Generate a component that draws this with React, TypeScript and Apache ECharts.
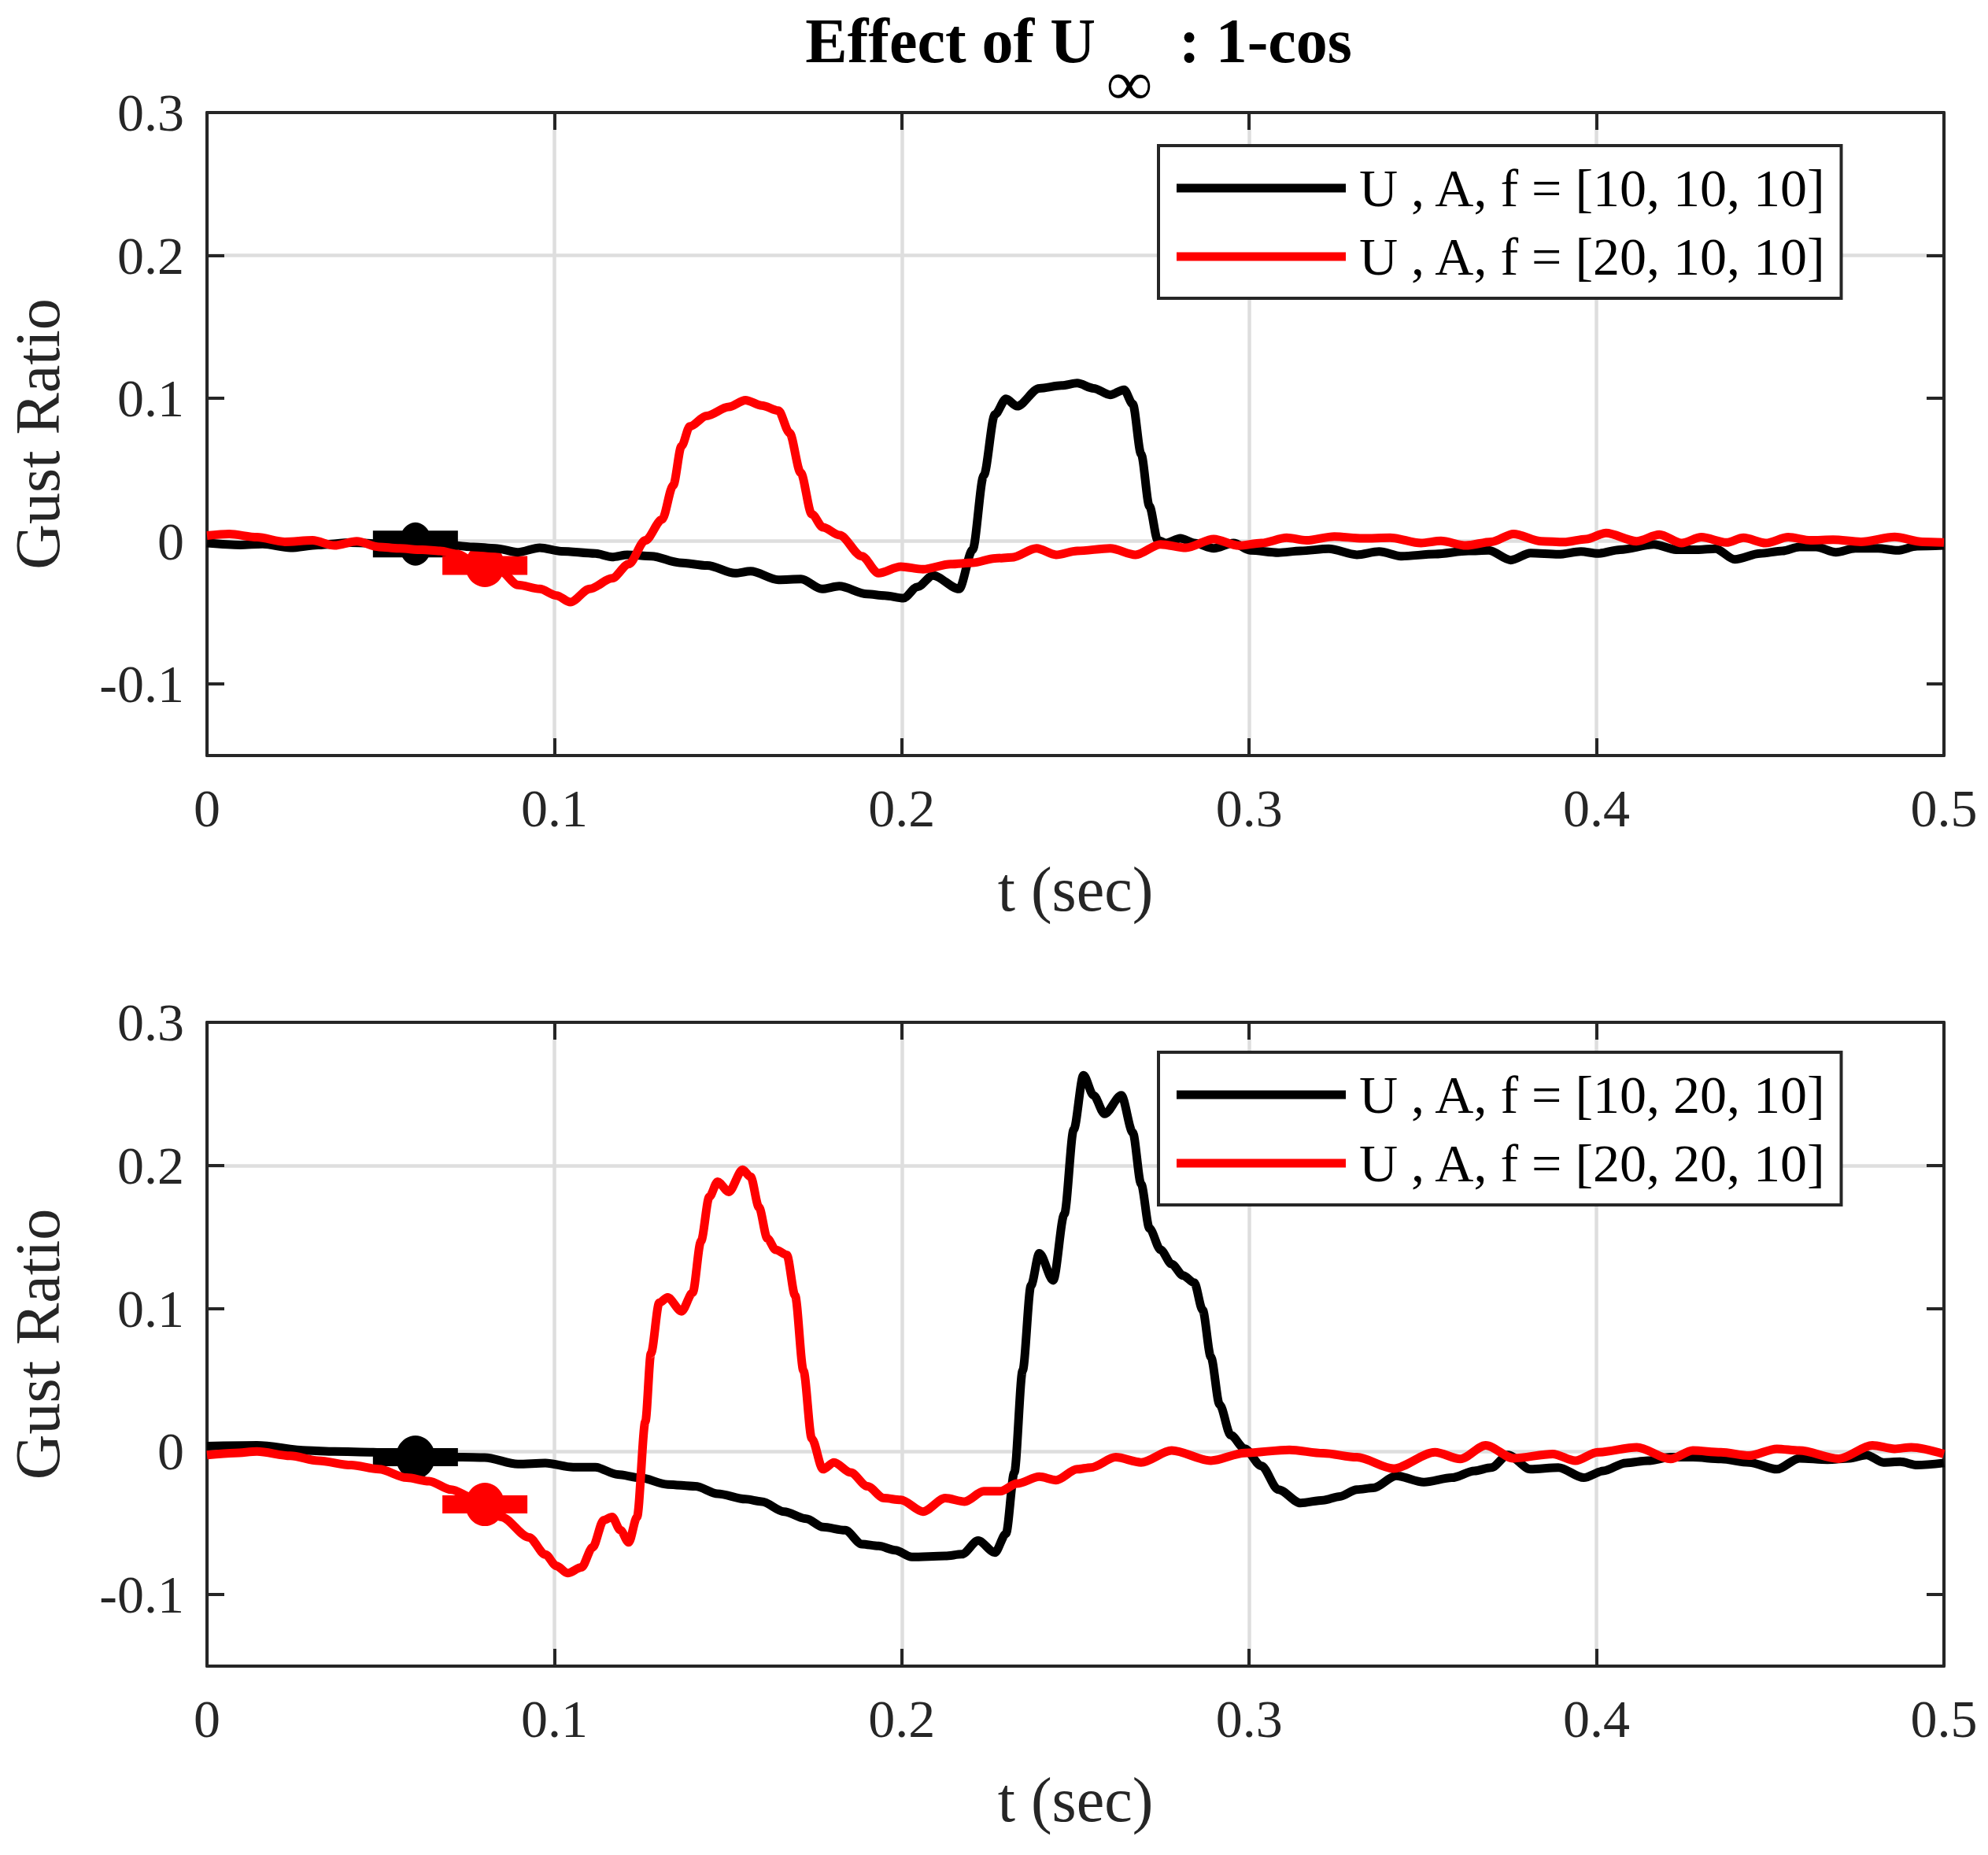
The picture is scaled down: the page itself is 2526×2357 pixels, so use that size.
import React, { useEffect, useRef } from 'react';
import * as echarts from 'echarts';

const FONT = "'Liberation Serif', 'Times New Roman', serif";
const AXIS_COLOR = '#262626';
const GRID_COLOR = '#dedede';

const yTicks = [-0.1, 0, 0.1, 0.2, 0.3];
const legendTop = ['U , A, f = [10, 10, 10]', 'U , A, f = [20, 10, 10]'];
const legendBottom = ['U , A, f = [10, 20, 10]', 'U , A, f = [20, 20, 10]'];

// Top panel: U, A, f = [10, 10, 10]
const topBlack: [number, number][] = [
  [0, -0.0013], [0.0096, -0.0026], [0.016, -0.002], [0.024, -0.0046], [0.032, -0.0026], [0.0415, -0.001],
  [0.0527, -0.002], [0.06, -0.002], [0.067, -0.002], [0.0767, -0.004], [0.083, -0.005], [0.0895, -0.0077],
  [0.0958, -0.0046], [0.102, -0.007], [0.1118, -0.0086], [0.1166, -0.011], [0.121, -0.0095], [0.128, -0.0105],
  [0.136, -0.015], [0.144, -0.017], [0.152, -0.0224], [0.1565, -0.021], [0.1645, -0.027], [0.171, -0.0265],
  [0.177, -0.0334], [0.182, -0.0315], [0.19, -0.037], [0.195, -0.038], [0.2005, -0.0398], [0.2045, -0.032],
  [0.209, -0.024], [0.2165, -0.0334], [0.2204, -0.006], [0.2236, 0.046], [0.2268, 0.0886], [0.23, 0.0996],
  [0.2332, 0.0945], [0.2396, 0.107], [0.246, 0.109], [0.2505, 0.1106], [0.2552, 0.107], [0.26, 0.1024],
  [0.264, 0.106], [0.2665, 0.096], [0.2689, 0.061], [0.2713, 0.0244], [0.2737, 0.0006], [0.2761, -0.0013],
  [0.2802, 0.002], [0.2842, -0.0013], [0.2898, -0.005], [0.2955, -0.0013], [0.3003, -0.0064], [0.3084, -0.008],
  [0.3148, -0.0068], [0.3229, -0.0053], [0.331, -0.0095], [0.3374, -0.0072], [0.3439, -0.0105], [0.3535, -0.009],
  [0.3632, -0.0068], [0.3689, -0.0064], [0.3753, -0.0132], [0.381, -0.0083], [0.389, -0.0092], [0.3955, -0.0072],
  [0.4003, -0.0086], [0.4068, -0.0059], [0.4165, -0.0022], [0.4229, -0.0059], [0.4294, -0.0059], [0.4342, -0.0053],
  [0.4398, -0.0127], [0.4471, -0.0086], [0.4535, -0.0068], [0.4584, -0.004], [0.4632, -0.004], [0.4689, -0.0077],
  [0.4745, -0.005], [0.481, -0.005], [0.4866, -0.0064], [0.4923, -0.0035], [0.5, -0.003],
];

// Top panel: U, A, f = [20, 10, 10]
const topRed: [number, number][] = [
  [0, 0.0039], [0.0064, 0.005], [0.0144, 0.0028], [0.0224, -0.0004], [0.0304, 0.0006], [0.0367, -0.003],
  [0.0431, -0.0001], [0.0495, -0.004], [0.055, -0.005], [0.062, -0.006], [0.0671, -0.0068], [0.072, -0.009],
  [0.0767, -0.014], [0.0847, -0.0215], [0.0895, -0.0306], [0.0958, -0.0334], [0.1006, -0.038], [0.1046, -0.0426],
  [0.1102, -0.0334], [0.1166, -0.026], [0.1214, -0.016], [0.1262, 0.0006], [0.131, 0.0152], [0.1342, 0.039],
  [0.1366, 0.0666], [0.139, 0.0804], [0.1438, 0.0877], [0.1502, 0.094], [0.155, 0.0987], [0.1597, 0.095],
  [0.1645, 0.0914], [0.1677, 0.0758], [0.1709, 0.048], [0.1741, 0.019], [0.1773, 0.0097], [0.1821, 0.0042],
  [0.1885, -0.0105], [0.1933, -0.0224], [0.1997, -0.0178], [0.2061, -0.0196], [0.2141, -0.016], [0.2204, -0.0151],
  [0.2268, -0.012], [0.2316, -0.0114], [0.2388, -0.005], [0.2444, -0.0095], [0.2505, -0.0068], [0.26, -0.005],
  [0.2673, -0.0095], [0.2745, -0.0022], [0.2818, -0.0046], [0.2898, 0.0015], [0.297, -0.0031], [0.3035, -0.0013],
  [0.3108, 0.0024], [0.3165, 0.0006], [0.3245, 0.0033], [0.3326, 0.002], [0.3406, 0.0024], [0.3495, -0.0013],
  [0.3552, 0.0002], [0.3624, -0.003], [0.3697, -0.0004], [0.3761, 0.0051], [0.3842, 0], [0.3906, -0.0006],
  [0.397, 0.0015], [0.4027, 0.0057], [0.4115, 0], [0.4181, 0.0046], [0.4245, -0.0013], [0.4302, 0.0028],
  [0.4374, -0.0009], [0.4423, 0.0024], [0.4487, -0.0013], [0.4552, 0.0028], [0.4616, 0.0006], [0.4681, 0.0011],
  [0.4761, -0.0004], [0.4858, 0.003], [0.4939, -0.0004], [0.5, -0.0009],
];

// Bottom panel: U, A, f = [10, 20, 10]
const bottomBlack: [number, number][] = [
  [0, 0.0038], [0.0144, 0.0043], [0.0288, 0.0007], [0.0367, 0], [0.0479, -0.0005], [0.06, -0.003],
  [0.0735, -0.004], [0.0799, -0.0042], [0.0895, -0.0088], [0.0974, -0.0081], [0.1054, -0.011], [0.1118, -0.011],
  [0.1182, -0.016], [0.1246, -0.0183], [0.1326, -0.023], [0.1406, -0.0243], [0.147, -0.0295], [0.155, -0.0333],
  [0.1597, -0.035], [0.1661, -0.042], [0.1725, -0.047], [0.1773, -0.0528], [0.1837, -0.055], [0.1885, -0.0647],
  [0.1933, -0.066], [0.1981, -0.069], [0.2029, -0.0737], [0.2125, -0.073], [0.2173, -0.0718], [0.222, -0.0623],
  [0.2268, -0.0706], [0.23, -0.0575], [0.2324, -0.0147], [0.2348, 0.0566], [0.2372, 0.116], [0.2396, 0.1386],
  [0.2436, 0.1196], [0.2468, 0.166], [0.2495, 0.225], [0.2523, 0.263], [0.2552, 0.249], [0.2584, 0.236],
  [0.2632, 0.249], [0.2665, 0.223], [0.2689, 0.187], [0.2713, 0.156], [0.2745, 0.141], [0.2777, 0.131],
  [0.281, 0.123], [0.2842, 0.118], [0.2866, 0.099], [0.289, 0.066], [0.2915, 0.0328], [0.2947, 0.0114],
  [0.2987, 0.002], [0.3035, -0.01], [0.3084, -0.0266], [0.3148, -0.036], [0.3213, -0.034], [0.3261, -0.0314],
  [0.331, -0.0266], [0.3358, -0.0254], [0.3423, -0.017], [0.3503, -0.0214], [0.3584, -0.0183], [0.3648, -0.0136],
  [0.3697, -0.0112], [0.3745, -0.0024], [0.381, -0.0124], [0.389, -0.0112], [0.3963, -0.0183], [0.4019, -0.0136],
  [0.4084, -0.008], [0.4148, -0.0064], [0.4213, -0.004], [0.4277, -0.004], [0.4358, -0.0052], [0.4439, -0.0076],
  [0.4519, -0.0124], [0.4584, -0.0047], [0.4665, -0.0057], [0.4729, -0.0047], [0.4777, -0.0024], [0.4826, -0.0076],
  [0.4874, -0.0071], [0.4923, -0.0095], [0.5, -0.008],
];

// Bottom panel: U, A, f = [20, 20, 10]
const bottomRed: [number, number][] = [
  [0, -0.0024], [0.008, -0.001], [0.0144, 0], [0.024, -0.003], [0.032, -0.0064], [0.0415, -0.0095],
  [0.0495, -0.0124], [0.0575, -0.0183], [0.0639, -0.0207], [0.0703, -0.0266], [0.0767, -0.0326], [0.0847, -0.0457],
  [0.0927, -0.06], [0.0974, -0.072], [0.1006, -0.08], [0.1038, -0.085], [0.1078, -0.081], [0.111, -0.067],
  [0.1142, -0.048], [0.1166, -0.0457], [0.119, -0.055], [0.1214, -0.0635], [0.1238, -0.0457], [0.1262, 0.021],
  [0.1278, 0.0685], [0.1302, 0.104], [0.1326, 0.1077], [0.1366, 0.098], [0.1398, 0.111], [0.1422, 0.147],
  [0.1446, 0.178], [0.147, 0.1886], [0.1502, 0.1815], [0.1542, 0.197], [0.1565, 0.192], [0.1589, 0.1707],
  [0.1613, 0.149], [0.1637, 0.141], [0.1669, 0.1375], [0.1693, 0.109], [0.1717, 0.0566], [0.1741, 0.009],
  [0.1773, -0.0124], [0.1805, -0.0076], [0.1853, -0.0147], [0.1901, -0.0243], [0.1949, -0.0326], [0.1997, -0.0338],
  [0.2061, -0.042], [0.2125, -0.0326], [0.2181, -0.035], [0.2236, -0.0278], [0.2284, -0.0278], [0.2332, -0.0224],
  [0.2396, -0.0176], [0.2444, -0.02], [0.2505, -0.0124], [0.2544, -0.0112], [0.2616, -0.004], [0.2689, -0.0076],
  [0.2777, 0.0007], [0.289, -0.0064], [0.2987, -0.001], [0.3116, 0.0012], [0.3213, -0.0012], [0.331, -0.004],
  [0.3415, -0.0119], [0.3535, -0.0005], [0.3608, -0.0052], [0.3681, 0.0043], [0.3761, -0.0047], [0.3874, -0.0017],
  [0.3939, -0.0064], [0.4003, -0.0005], [0.4116, 0.003], [0.4213, -0.0052], [0.4277, 0.0007], [0.4358, -0.0005],
  [0.4439, -0.0029], [0.4519, 0.0019], [0.4584, 0.0007], [0.4697, -0.005], [0.4794, 0.0043], [0.4858, 0.0019],
  [0.4906, 0.003], [0.5, -0.0017],
];

// Gust-start markers [t, value]: black then red
const topMarkers: [number, number][] = [[0.06, -0.002], [0.08, -0.017]];
const bottomMarkers: [number, number][] = [[0.06, -0.004], [0.08, -0.037]];

const fmt = (v: number) => (Math.abs(v) < 1e-9 ? '0' : String(Number(v.toFixed(1))));

function App() {
  const ref = useRef<HTMLDivElement>(null);

  useEffect(() => {
    if (!ref.current) return;
    document.body.style.margin = '0';
    const chart = echarts.init(ref.current, null, { renderer: 'svg' });

    const grids = [
      { left: 262, top: 143, width: 2208, height: 817 },
      { left: 262, top: 1299, width: 2208, height: 818 },
    ];

    const xAxes: any[] = [];
    const yAxes: any[] = [];
    grids.forEach((_, gi) => {
      xAxes.push({
        gridIndex: gi, type: 'value', min: 0, max: 0.5, interval: 0.1, position: 'bottom',
        axisLine: { show: true, onZero: false, lineStyle: { color: AXIS_COLOR, width: 4 } },
        axisTick: { show: true, inside: true, length: 22, lineStyle: { color: AXIS_COLOR, width: 4 } },
        axisLabel: { show: true, margin: 33, fontSize: 68, fontFamily: FONT, color: AXIS_COLOR, formatter: fmt },
        splitLine: { show: true, lineStyle: { color: GRID_COLOR, width: 4.5 } },
        name: 't (sec)', nameLocation: 'middle', nameGap: 130,
        nameTextStyle: { fontSize: 80, fontFamily: FONT, color: AXIS_COLOR },
      });
      xAxes.push({
        gridIndex: gi, type: 'value', min: 0, max: 0.5, interval: 0.1, position: 'top',
        axisLine: { show: true, onZero: false, lineStyle: { color: AXIS_COLOR, width: 4 } },
        axisTick: { show: true, inside: true, length: 22, lineStyle: { color: AXIS_COLOR, width: 4 } },
        axisLabel: { show: false },
        splitLine: { show: false },
      });
      yAxes.push({
        gridIndex: gi, type: 'value', min: -0.15, max: 0.3, interval: 0.05, position: 'left',
        axisLine: { show: true, onZero: false, lineStyle: { color: AXIS_COLOR, width: 4 } },
        axisTick: { show: true, inside: true, length: 22, customValues: yTicks, lineStyle: { color: AXIS_COLOR, width: 4 } },
        axisLabel: { show: true, customValues: yTicks, margin: 29, fontSize: 68, fontFamily: FONT, color: AXIS_COLOR, formatter: fmt },
        splitLine: { show: true, lineStyle: { color: ['rgba(0,0,0,0)', GRID_COLOR], width: 4.5 } },
        name: 'Gust Ratio', nameLocation: 'middle', nameGap: 175, nameRotate: 90,
        nameTextStyle: { fontSize: 80, fontFamily: FONT, color: AXIS_COLOR },
      });
      yAxes.push({
        gridIndex: gi, type: 'value', min: -0.15, max: 0.3, interval: 0.05, position: 'right',
        axisLine: { show: true, onZero: false, lineStyle: { color: AXIS_COLOR, width: 4 } },
        axisTick: { show: true, inside: true, length: 22, customValues: yTicks, lineStyle: { color: AXIS_COLOR, width: 4 } },
        axisLabel: { show: false },
        splitLine: { show: false },
      });
    });

    const panels = [
      { black: topBlack, red: topRed, markers: topMarkers, names: legendTop, blackRect: [108, 34], blackDot: [42, 55], redRect: [108, 24] },
      { black: bottomBlack, red: bottomRed, markers: bottomMarkers, names: legendBottom, blackRect: [108, 23], blackDot: [50, 55], redRect: [108, 23] },
    ];

    const series: any[] = [];
    panels.forEach((p, gi) => {
      const axes = { xAxisIndex: gi * 2, yAxisIndex: gi * 2 };
      const line = (name: string, data: [number, number][], color: string) => ({
        type: 'line', name, data, ...axes, showSymbol: false, symbol: 'none',
        smooth: 0.3, smoothMonotone: 'x',
        lineStyle: { color, width: 11 }, itemStyle: { color }, silent: true,
      });
      const marker = (pt: [number, number], color: string, symbol: string, size: number[]) => ({
        type: 'scatter', data: [pt], ...axes, symbol, symbolSize: size,
        itemStyle: { color, opacity: 1 }, silent: true,
      });
      series.push(line(p.names[0], p.black, '#000000'));
      series.push(marker(p.markers[0], '#000000', 'rect', p.blackRect));
      series.push(marker(p.markers[0], '#000000', 'circle', p.blackDot));
      series.push(line(p.names[1], p.red, '#ff0000'));
      series.push(marker(p.markers[1], '#ff0000', 'rect', p.redRect));
      series.push(marker(p.markers[1], '#ff0000', 'circle', [50, 55]));
    });

    const legendBase = {
      orient: 'vertical', left: 1472, backgroundColor: '#ffffff',
      borderColor: AXIS_COLOR, borderWidth: 4, borderRadius: 0,
      padding: [20, 17, 19, 23], itemGap: 19, itemWidth: 215, itemHeight: 11, icon: 'rect',
      selectedMode: false,
      textStyle: { fontSize: 68, fontFamily: FONT, color: '#000000', lineHeight: 68, padding: [0, 0, 0, 12] },
    };

    const titleStyle = { fontSize: 80, fontWeight: 'bold', fontFamily: FONT, fill: '#000' };

    chart.setOption({
      animation: false,
      backgroundColor: '#ffffff',
      grid: grids,
      xAxis: xAxes,
      yAxis: yAxes,
      legend: [
        { ...legendBase, top: 185, data: legendTop },
        { ...legendBase, top: 1337, data: legendBottom },
      ],
      graphic: [
        { type: 'text', x: 1392, y: 52, style: { ...titleStyle, text: 'Effect of U', align: 'right', verticalAlign: 'middle' } },
        { type: 'text', x: 1435, y: 106, style: { ...titleStyle, text: '∞', align: 'center', verticalAlign: 'middle' } },
        { type: 'text', x: 1498, y: 52, style: { ...titleStyle, text: ': 1-cos', align: 'left', verticalAlign: 'middle' } },
      ],
      series,
    });

    return () => chart.dispose();
  }, []);

  return <div ref={ref} style={{ position: 'absolute', left: 0, top: 0, width: 2526, height: 2357, background: '#fff' }} />;
}

export default App;
